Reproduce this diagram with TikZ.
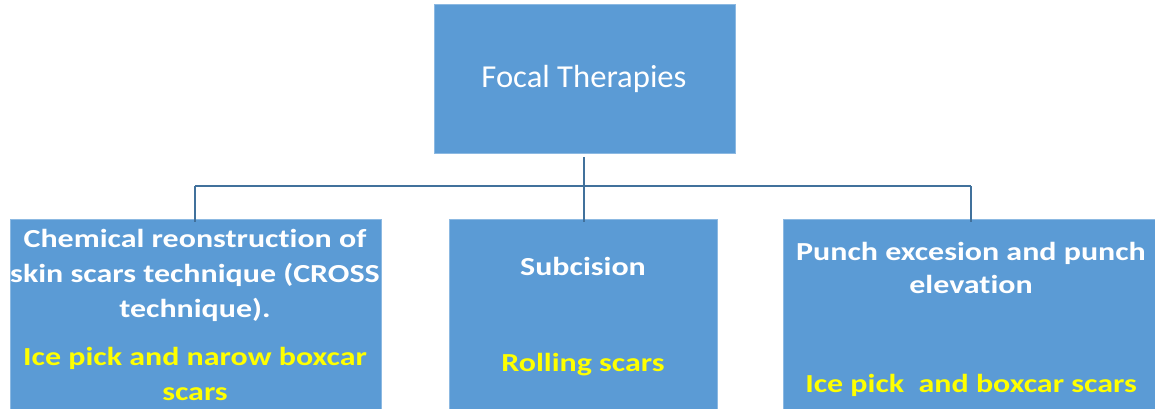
\documentclass[tikz,border=0pt]{standalone}
\usepackage{fontspec}
\setmainfont{Carlito}
\newfontfamily\widebf[FakeStretch=1.23,RawFeature=-liga]{Carlito}
\newfontfamily\wideit[FakeStretch=1.02,RawFeature=-liga]{Carlito}
\definecolor{boxblue}{HTML}{5B9BD5}
\definecolor{lineblue}{HTML}{41719C}
\definecolor{ylw}{HTML}{FFFF00}
\begin{document}
\begin{tikzpicture}[x=1pt,y=-1pt,
  box/.style={draw=boxblue!70!white,line width=0.8pt,fill=boxblue,anchor=north west,inner sep=0pt},
  conn/.style={draw=lineblue,line width=2.8pt},
  wt/.style={text=white,font=\widebf\fontsize{26}{35}\selectfont\bfseries,anchor=base,inner sep=0pt},
  yt/.style={text=ylw,font=\widebf\fontsize{26}{35}\selectfont\bfseries,anchor=base,inner sep=0pt},
  tt/.style={text=white,font=\wideit\fontsize{32}{36}\selectfont,anchor=base,inner sep=0pt}]
\useasboundingbox (0,0) rectangle (1155,409);
\begin{scope}
\clip (0,0) rectangle (1155,409);
% boxes
\node[box,minimum width=301pt,minimum height=149pt] (top) at (434,4) {};
\node[box,minimum width=371pt,minimum height=200pt] (left) at (10,219) {};
\node[box,minimum width=268pt,minimum height=200pt] (mid) at (449,219) {};
\node[box,minimum width=378pt,minimum height=200pt] (right) at (783,219) {};
% connectors
\coordinate (hl) at (195,186);
\coordinate (hm) at (584,186);
\coordinate (hr) at (971,186);
\draw[conn] (top.south -| hm) ++(0,3) -- (hm);
\draw[conn] (hl) -- (hr);
\draw[conn] (hl) -- ([yshift=-3pt]left.north -| hl);
\draw[conn] (hm) -- ([yshift=-3pt]mid.north -| hm);
\draw[conn] (hr) -- ([yshift=-3pt]right.north -| hr);
% texts
\node[tt] (t0) at (584,88) {Focal Therapies};
\node[wt] (l1) at (195,247) {Chemical reonstruction of};
\node[wt] (l2) at (195,282) {skin scars technique (CROSS};
\node[wt] (l3) at (195,317) {technique).};
\node[yt] (l4) at (195,365) {Ice pick and narow boxcar};
\node[yt] (l5) at (195,400) {scars};
\node[wt] (m1) at (583,275) {Subcision};
\node[yt] (m2) at (583,371) {Rolling scars};
\node[wt] (r1) at (971,260) {Punch excesion and punch};
\node[wt] (r2) at (971,293) {elevation};
\node[yt] (r3) at (971,392) {Ice pick\ \ and boxcar scars};
\end{scope}
\end{tikzpicture}
\end{document}
